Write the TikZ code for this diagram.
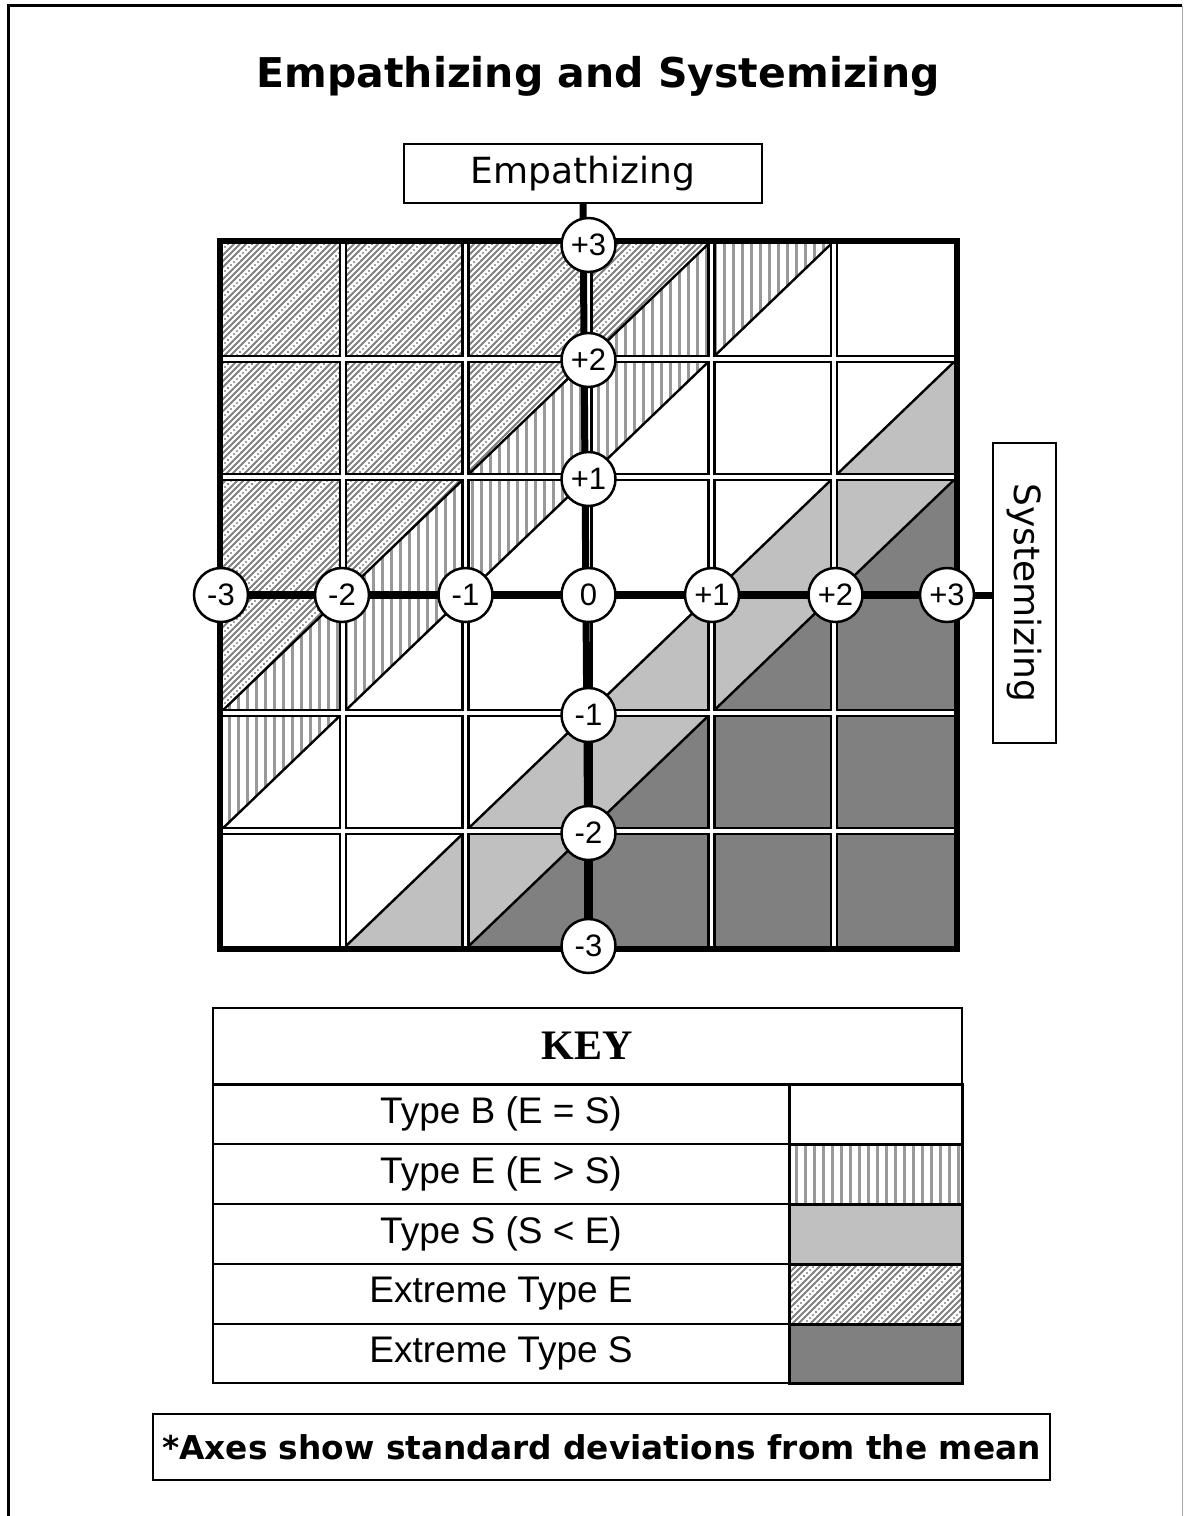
\documentclass[tikz,border=0pt]{standalone}
\usepackage{fontspec}
\setmainfont{Liberation Sans}
\newfontfamily\djv{DejaVu Sans}
\newfontfamily\lserif{Liberation Serif}
\usetikzlibrary{patterns}

\pgfdeclarepatternformonly{xhatch}{\pgfqpoint{-1pt}{-1pt}}{\pgfqpoint{25pt}{25pt}}{\pgfqpoint{24pt}{24pt}}{%
  \pgfsetlinewidth{1.8pt}%
  \pgfpathmoveto{\pgfqpoint{0pt}{0pt}}\pgfpathlineto{\pgfqpoint{24pt}{24pt}}%
  \pgfpathmoveto{\pgfqpoint{6pt}{0pt}}\pgfpathlineto{\pgfqpoint{24pt}{18pt}}%
  \pgfpathmoveto{\pgfqpoint{0pt}{18pt}}\pgfpathlineto{\pgfqpoint{6pt}{24pt}}%
  \pgfpathmoveto{\pgfqpoint{18pt}{0pt}}\pgfpathlineto{\pgfqpoint{24pt}{6pt}}%
  \pgfpathmoveto{\pgfqpoint{0pt}{6pt}}\pgfpathlineto{\pgfqpoint{18pt}{24pt}}%
  \pgfusepath{stroke}%
  \pgfpathcircle{\pgfqpoint{12pt}{0pt}}{1.2pt}%
  \pgfpathcircle{\pgfqpoint{15pt}{3pt}}{1.2pt}%
  \pgfpathcircle{\pgfqpoint{18pt}{6pt}}{1.2pt}%
  \pgfpathcircle{\pgfqpoint{21pt}{9pt}}{1.2pt}%
  \pgfpathcircle{\pgfqpoint{0pt}{12pt}}{1.2pt}%
  \pgfpathcircle{\pgfqpoint{3pt}{15pt}}{1.2pt}%
  \pgfpathcircle{\pgfqpoint{6pt}{18pt}}{1.2pt}%
  \pgfpathcircle{\pgfqpoint{9pt}{21pt}}{1.2pt}%
  \pgfpathcircle{\pgfqpoint{12pt}{24pt}}{1.2pt}%
  \pgfpathcircle{\pgfqpoint{24pt}{12pt}}{1.2pt}%
  \pgfusepath{fill}%
}
\pgfdeclarepatternformonly{vstripes}{\pgfqpoint{0pt}{-1pt}}{\pgfqpoint{9pt}{10pt}}{\pgfqpoint{9pt}{9pt}}{%
  \pgfsetlinewidth{2.2pt}%
  \pgfpathmoveto{\pgfqpoint{4.5pt}{-1pt}}\pgfpathlineto{\pgfqpoint{4.5pt}{10pt}}%
  \pgfusepath{stroke}%
}

\definecolor{lightS}{HTML}{C0C0C0}
\definecolor{darkS}{HTML}{808080}

\begin{document}
\begin{tikzpicture}[x=1pt,y=-1pt,
  extE/.style={pattern=xhatch, pattern color=black!50},
  typE/.style={pattern=vstripes, pattern color=black!40},
  typS/.style={fill=lightS},
  extS/.style={fill=darkS},
  diag/.style={line width=2.4pt, black},
  axisline/.style={line width=7pt, black},
  circ/.style={circle, draw, fill=white, line width=2.5pt, minimum size=54pt, inner sep=0pt, font=\fontsize{31}{35}\selectfont},
  labbox/.style={draw, line width=2pt, inner sep=0pt, font=\djv\fontsize{36}{42}\selectfont},
  keycell/.style={draw, line width=2pt, inner sep=0pt, minimum width=576pt, minimum height=60pt, font=\fontsize{37}{42}\selectfont},
  swatch/.style={draw, line width=3pt, inner sep=0pt, minimum width=173pt, minimum height=60pt}
]
\useasboundingbox (0,0) rectangle (1185,1516);
% page frame
\draw[line width=3pt] (8,1516) -- (8,5.5) -- (1182,5.5);
\draw[line width=1pt, black!35] (1182.5,5.5) -- (1182.5,1516);

% title
\node[font=\djv\bfseries\fontsize{41}{47}\selectfont] (title) at (598,76) {Empathizing and Systemizing};

% axis title boxes
\node[labbox, minimum width=358pt, minimum height=59pt] (emp) at (583,173.5) {Empathizing};
\node[labbox, minimum width=300pt, minimum height=63pt, rotate=-90] (sys) at (1024.5,593) {Systemizing};

% grid
\begin{scope}[shift={(588.5,595)}, x=122.83pt, y=118pt]
  \fill[extE] (-3,-1) -- (-3,3) -- (1,3) -- cycle;
  \fill[typE] (-3,-2) -- (-3,-1) -- (1,3) -- (2,3) -- cycle;
  \fill[typS] (-2,-3) -- (3,2) -- (3,1) -- (-1,-3) -- cycle;
  \fill[extS] (-1,-3) -- (3,1) -- (3,-3) -- cycle;
  \draw[diag] (-3,-1) -- (1,3);
  \draw[diag] (-3,-2) -- (2,3);
  \draw[diag] (-2,-3) -- (3,2);
  \draw[diag] (-1,-3) -- (3,1);
  \foreach \i in {-2,-1,0,1,2}{
    \draw[line width=8.6pt] (\i,-3) -- (\i,3);
    \draw[line width=8.6pt] (-3,\i) -- (3,\i);
  }
  \foreach \i in {-2,-1,0,1,2}{
    \draw[line width=3.4pt, white] (\i,-3) -- (\i,3);
    \draw[line width=3.4pt, white] (-3,\i) -- (3,\i);
  }
  \draw[line width=6pt] (-3,-3) rectangle (3,3);
\end{scope}

% axis positions
\coordinate (hm3) at (221,595);
\coordinate (hm2) at (342,595);
\coordinate (hm1) at (465.5,595);
\coordinate (h0)  at (588.5,595);
\coordinate (hp1) at (712,595);
\coordinate (hp2) at (835.5,595);
\coordinate (hp3) at (947,595);
\coordinate (vp3) at (588.5,245);
\coordinate (vp2) at (588.5,360);
\coordinate (vp1) at (588.5,479);
\coordinate (vm1) at (588.5,715);
\coordinate (vm2) at (588.5,833);
\coordinate (vm3) at (588.5,946);

\draw[axisline] (hm3) -- (hp3 -| sys.south);
\draw[axisline] (emp.south) -- (vm3);

\node[circ] (chm3) at (hm3) {-3};
\node[circ] (chm2) at (hm2) {-2};
\node[circ] (chm1) at (hm1) {-1};
\node[circ] (ch0)  at (h0)  {0};
\node[circ] (chp1) at (hp1) {+1};
\node[circ] (chp2) at (hp2) {+2};
\node[circ] (chp3) at (hp3) {+3};
\node[circ] (cvp3) at (vp3) {+3};
\node[circ] (cvp2) at (vp2) {+2};
\node[circ] (cvp1) at (vp1) {+1};
\node[circ] (cvm1) at (vm1) {-1};
\node[circ] (cvm2) at (vm2) {-2};
\node[circ] (cvm3) at (vm3) {-3};

% key
\node[draw, line width=2pt, minimum width=749pt, minimum height=77pt, inner sep=0pt,
      font=\lserif\bfseries\fontsize{42}{48}\selectfont] (keyhead) at (587.5,1046) {KEY};
\node[keycell] (kB)  at (501,1114) {Type B (E = S)};
\node[keycell] (kE)  at (501,1174) {Type E (E > S)};
\node[keycell] (kS)  at (501,1234) {Type S (S < E)};
\node[keycell] (kXE) at (501,1294) {Extreme Type E};
\node[keycell, minimum height=59pt] (kXS) at (501,1353.5) {Extreme Type S};
\node[swatch] (sB)  at (875.5,1114) {};
\node[swatch, typE] (sE)  at (875.5,1174) {};
\node[swatch, typS] (sS)  at (875.5,1234) {};
\node[swatch, extE] (sXE) at (875.5,1294) {};
\node[swatch, extS, minimum height=59pt] (sXS) at (875.5,1353.5) {};

% footnote
\node[draw, line width=2pt, minimum width=897pt, minimum height=66pt, inner sep=0pt,
      font=\djv\bfseries\fontsize{32.8}{38}\selectfont] (note) at (601.5,1447) {*Axes show standard deviations from the mean};
\end{tikzpicture}
\end{document}
